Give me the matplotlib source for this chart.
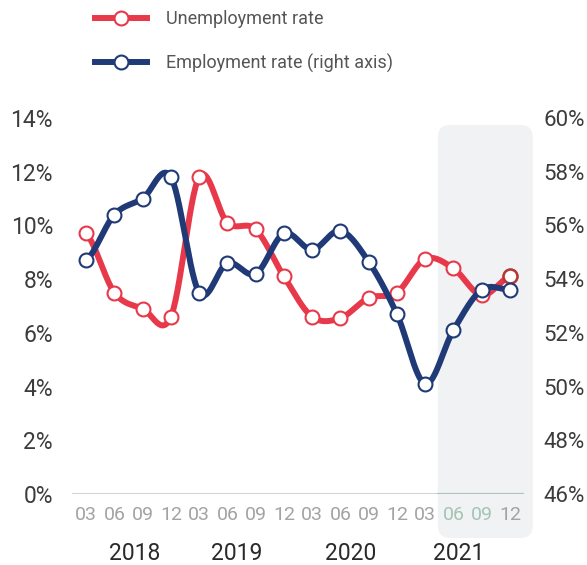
import numpy as np
import matplotlib
matplotlib.use("Agg")
import matplotlib.pyplot as plt
from matplotlib.lines import Line2D
from matplotlib.patches import FancyBboxPatch

plt.rcParams['font.family'] = ['Roboto', 'DejaVu Sans']

# quarters 2018Q1 .. 2021Q4
months = ['03', '06', '09', '12'] * 4
years = ['2018', '2019', '2020', '2021']
unemployment = [9.7, 7.5, 6.9, 6.6, 11.8, 10.1, 9.85, 8.1,
                6.6, 6.55, 7.3, 7.5, 8.75, 8.4, 7.4, 8.1]
employment = [54.7, 56.4, 57.0, 57.8, 53.5, 54.6, 54.2, 55.7,
              55.1, 55.8, 54.65, 52.7, 50.1, 52.1, 53.6, 53.6]

RED = '#e8394b'
BLUE = '#1f3a76'


def catmull_rom(y, steps=30):
    # smooth line through the points (uniform x spacing)
    y = np.asarray(y, dtype=float)
    p = np.concatenate([[y[0]], y, [y[-1]]])
    xs, ys = [], []
    for i in range(len(y) - 1):
        p0, p1, p2, p3 = p[i], p[i + 1], p[i + 2], p[i + 3]
        m1 = (p2 - p0) / 2
        m2 = (p3 - p1) / 2
        t = np.linspace(0, 1, steps, endpoint=False)
        h00 = 2 * t**3 - 3 * t**2 + 1
        h10 = t**3 - 2 * t**2 + t
        h01 = -2 * t**3 + 3 * t**2
        h11 = t**3 - t**2
        xs.append(i + t)
        ys.append(h00 * p1 + h10 * m1 + h01 * p2 + h11 * m2)
    xs.append([len(y) - 1])
    ys.append([y[-1]])
    return np.concatenate(xs), np.concatenate(ys)


fig = plt.figure(figsize=(5.87, 5.65), dpi=100)
ax = fig.add_axes([0.1227, 0.1257, 0.77, 0.6655])
ax2 = ax.twinx()

x = np.arange(len(unemployment))

# shaded 2021 box
box = FancyBboxPatch((12.45, -1.64), 3.36, 15.38,
                     boxstyle='round,pad=0,rounding_size=0.45',
                     facecolor='#f1f2f4', edgecolor='none',
                     transform=ax.transData, clip_on=False, zorder=0)
ax.add_patch(box)

ax.axhline(0, color='#d4d4d4', lw=1.5, zorder=1)
ax.plot([12.45, 15.5], [0, 0], color='#a9c6b6', lw=1.5, zorder=1)

sx, sy = catmull_rom(unemployment)
ax.plot(sx, sy, color=RED, lw=4.3, solid_capstyle='round', zorder=3)
ax.plot(x, unemployment, ls='none', marker='o', ms=10, mfc='white',
        mec=RED, mew=1.5, zorder=4)
ax.plot(x[-1:], unemployment[-1:], ls='none', marker='o', ms=10, mfc='white',
        mec='#b33a34', mew=1.8, zorder=4)

ex, ey = catmull_rom(employment)
ax2.plot(ex, ey, color=BLUE, lw=4.3, solid_capstyle='round', zorder=3)
ax2.plot(x, employment, ls='none', marker='o', ms=10, mfc='white',
         mec=BLUE, mew=1.5, zorder=4)

ax.set_xlim(-0.5, 15.5)
ax.set_ylim(0, 14)
ax2.set_ylim(46, 60)
ax.set_yticks(np.arange(0, 15, 2))
ax.set_yticklabels([f'{v}%' for v in range(0, 15, 2)])
ax2.set_yticks(np.arange(46, 61, 2))
ax2.set_yticklabels([f'{v}%' for v in range(46, 61, 2)])
ax.tick_params(axis='y', length=0, pad=13.7, labelsize=16.5, labelcolor='#3c3c3c')
ax2.tick_params(axis='y', length=0, pad=14, labelsize=16, labelcolor='#3c3c3c')

ax.set_xticks(x)
ax.set_xticklabels(months)
ax.tick_params(axis='x', length=0, pad=9, labelsize=14, labelcolor='#a3a3a3')
for i, lab in enumerate(ax.get_xticklabels()):
    if i in (13, 14):
        lab.set_color('#a3c4b3')

year_pos = [1.73, 5.34, 9.37, 13.19]
for xp, yr in zip(year_pos, years):
    ax.text(xp, -0.158, yr, transform=ax.get_xaxis_transform(), ha='center',
            va='center', fontsize=16.5, color='#2a2a2a')

for a in (ax, ax2):
    for s in a.spines.values():
        s.set_visible(False)
ax.patch.set_visible(False)
ax2.patch.set_visible(False)

handles = [
    Line2D([], [], color=RED, lw=4.3, marker='o', ms=10, mfc='white', mec=RED, mew=1.5),
    Line2D([], [], color=BLUE, lw=4.3, marker='o', ms=10, mfc='white', mec=BLUE, mew=1.5),
]
leg = fig.legend(handles, ['Unemployment rate', 'Employment rate (right axis)'],
                 loc='upper left', bbox_to_anchor=(0.162, 0.982), frameon=False,
                 borderpad=0, borderaxespad=0, handlelength=2.9, handletextpad=1.0,
                 labelspacing=1.4, fontsize=13)
for t in leg.get_texts():
    t.set_color('#555555')

fig.savefig('out.png', dpi=100)
